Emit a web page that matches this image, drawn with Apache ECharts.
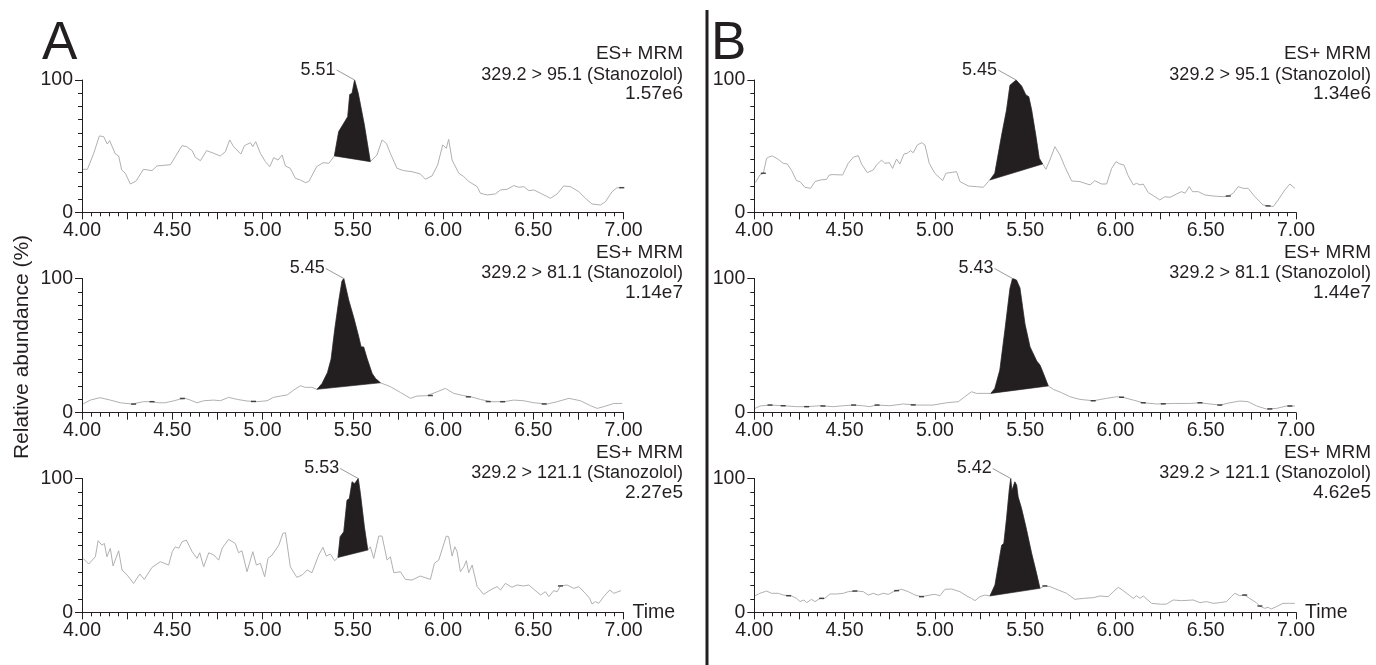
<!DOCTYPE html>
<html><head><meta charset="utf-8">
<script src="https://cdn.jsdelivr.net/npm/echarts@6/dist/echarts.min.js"></script>
<style>html,body{margin:0;padding:0;background:#fff}#c{width:1376px;height:665px}</style>
</head><body><div id="c"></div>
<script>
// ---------------- data ----------------
const panelLetters = ['A', 'B'];
const yAxisTitle = 'Relative abundance (%)';
const xAxisTitle = 'Time';
const modeLabel = 'ES+ MRM';
const transitions = ['329.2 > 95.1 (Stanozolol)', '329.2 > 81.1 (Stanozolol)', '329.2 > 121.1 (Stanozolol)'];
const intensities = ['1.57e6', '1.14e7', '2.27e5', '1.34e6', '1.44e7', '4.62e5'];
const retentionTimes = [5.51, 5.45, 5.53, 5.45, 5.43, 5.42];
const peakStart = [5.398, 5.302, 5.418, 5.305, 5.31, 5.305];
const peakEnd = [5.597, 5.653, 5.583, 5.597, 5.628, 5.582];
const timeMin = 4, timeMax = 7;

const A1_trace = [[4.006,32.5],[4.03,32.5],[4.065,44.6],[4.096,57.7],[4.12,57.2],[4.14,51.6],[4.153,54.2],[4.185,44],[4.203,42.6],[4.22,32],[4.24,29.5],[4.268,21.4],[4.30,23.7],[4.34,32.5],[4.388,31.5],[4.415,35],[4.49,36],[4.517,42],[4.554,50.4],[4.58,49.6],[4.61,46.6],[4.628,41.6],[4.656,39],[4.69,46.6],[4.73,44.6],[4.766,42.6],[4.794,45.8],[4.818,54.7],[4.84,49.6],[4.88,44],[4.90,50.4],[4.933,52.6],[4.946,49.6],[4.962,53.4],[4.988,44.6],[5.016,38.3],[5.04,34.5],[5.062,41.3],[5.086,39.5],[5.108,43.3],[5.127,35],[5.154,33.2],[5.182,25.7],[5.21,24.4],[5.237,22.4],[5.256,23.2],[5.30,34.5],[5.335,37.5],[5.367,37],[5.398,42.6],[5.422,61],[5.45,67.3],[5.472,72.3],[5.483,89],[5.496,90],[5.51,100],[5.53,90],[5.564,66],[5.597,38.3],[5.634,43.3],[5.662,54.7],[5.686,52.1],[5.708,44.6],[5.745,33.2],[5.782,31.5],[5.828,30.7],[5.874,29],[5.902,25],[5.939,27.5],[5.97,35.8],[5.998,50.9],[6.018,48.4],[6.031,55.2],[6.05,39.5],[6.087,29.5],[6.115,27],[6.143,23.2],[6.189,19.4],[6.207,14.4],[6.244,13.1],[6.29,13.9],[6.318,16.9],[6.355,17.4],[6.392,20.2],[6.42,18.9],[6.447,19.4],[6.475,16.4],[6.503,16.9],[6.54,14.4],[6.595,10.6],[6.632,13.9],[6.668,19.9],[6.705,19.4],[6.752,15.6],[6.788,10.6],[6.825,6.3],[6.872,5.5],[6.9,8],[6.936,15.6],[6.964,18.6],[6.986,18.6]];

const A2_trace = [[4.006,6.5],[4.046,9.4],[4.10,11.2],[4.157,9.4],[4.212,7.4],[4.277,6.5],[4.34,8.2],[4.388,8.2],[4.425,7.4],[4.46,7.4],[4.51,8.9],[4.545,10.2],[4.572,10.7],[4.6,9.4],[4.637,7.4],[4.674,8.9],[4.73,9.4],[4.766,8.9],[4.812,11.4],[4.86,9.9],[4.914,8.7],[4.97,8.2],[5.025,8.9],[5.06,11.4],[5.1,12.4],[5.136,13.2],[5.173,16.9],[5.21,20.1],[5.237,18.9],[5.274,18.9],[5.302,17.4],[5.33,21.8],[5.36,30],[5.38,40],[5.40,62],[5.422,83],[5.44,98],[5.45,100],[5.477,84],[5.505,71],[5.532,57],[5.546,49],[5.56,49],[5.58,40],[5.607,29.3],[5.625,25.6],[5.653,22.3],[5.708,19.4],[5.764,15.1],[5.819,10.7],[5.856,12.4],[5.911,12.7],[5.967,15.6],[6.013,18.1],[6.059,14.4],[6.115,12.7],[6.152,11.9],[6.207,9.9],[6.262,8.2],[6.336,8.2],[6.392,9.4],[6.447,8.9],[6.503,7.4],[6.577,6.5],[6.632,8.2],[6.697,10.7],[6.761,8.9],[6.817,5.2],[6.854,3.2],[6.89,4.5],[6.946,6.9],[6.992,6.9]];

const A3_trace = [[4.006,40.3],[4.037,36.1],[4.074,41.5],[4.089,53.5],[4.11,50.2],[4.124,51.5],[4.138,41.5],[4.157,47.8],[4.172,34.6],[4.203,46],[4.222,31.6],[4.25,27.9],[4.286,21.6],[4.32,28.6],[4.345,24.6],[4.388,33.6],[4.434,37.8],[4.48,35.3],[4.5,45.3],[4.517,49],[4.536,47.8],[4.554,52.7],[4.578,54],[4.61,45.3],[4.637,40.3],[4.652,44.5],[4.674,34],[4.702,44.5],[4.73,42.8],[4.757,39],[4.776,47.8],[4.812,54.5],[4.849,51.5],[4.867,44.5],[4.886,46],[4.914,30.3],[4.946,45.3],[4.966,35.3],[4.988,36.6],[5.012,26.6],[5.03,40.3],[5.053,42.8],[5.09,50.2],[5.113,59],[5.127,59.5],[5.154,34],[5.19,26.1],[5.22,27.9],[5.247,31.6],[5.274,29.6],[5.311,42.8],[5.335,48.5],[5.353,42],[5.376,43.5],[5.40,38.5],[5.418,41],[5.43,56.5],[5.45,60.2],[5.468,83.8],[5.481,85],[5.496,97.5],[5.509,96.1],[5.52,98],[5.53,100],[5.542,88.8],[5.564,63.9],[5.583,46.5],[5.597,49],[5.616,40.3],[5.644,57],[5.662,57],[5.69,39],[5.708,41.5],[5.727,29.6],[5.764,30.3],[5.791,24.6],[5.828,24.1],[5.874,27.1],[5.93,24.6],[5.952,36.6],[5.976,39],[6.018,57],[6.031,56.5],[6.05,42],[6.065,49],[6.078,45.3],[6.096,30.3],[6.115,34],[6.129,38.6],[6.142,29.6],[6.161,35.3],[6.189,19.2],[6.225,13.4],[6.262,16.7],[6.299,19.2],[6.318,16.7],[6.345,21.6],[6.382,18.7],[6.41,20.4],[6.447,19.7],[6.475,20.4],[6.503,17.2],[6.54,12.9],[6.567,15.4],[6.586,11.7],[6.613,16.2],[6.632,15.4],[6.65,19.7],[6.687,20.4],[6.724,17.9],[6.752,19.2],[6.788,14.2],[6.812,10.4],[6.825,6.2],[6.844,8],[6.862,6.7],[6.89,11.7],[6.923,16.7],[6.946,14.2],[6.986,16.2]];

const B1_trace = [[4.006,22.4],[4.031,28.2],[4.05,29.5],[4.068,40.8],[4.083,42],[4.10,42.6],[4.133,40],[4.16,37],[4.183,36.5],[4.207,31.5],[4.234,23.9],[4.253,23.2],[4.28,18.9],[4.312,18.1],[4.336,23.2],[4.364,24.4],[4.4,24.9],[4.415,28.2],[4.437,28.5],[4.489,28.2],[4.52,37],[4.548,41.6],[4.576,42.8],[4.594,36.5],[4.626,30],[4.659,32],[4.677,35.8],[4.705,39.5],[4.723,37],[4.748,37.5],[4.766,33.2],[4.788,40.3],[4.806,36.5],[4.829,44.1],[4.847,44.6],[4.866,46.6],[4.88,45],[4.903,50.9],[4.927,52.6],[4.945,50.9],[4.969,37],[5.0,29.5],[5.043,23.9],[5.061,29.5],[5.12,30.7],[5.139,23.2],[5.185,19.9],[5.231,19.4],[5.268,18.9],[5.296,23.2],[5.305,24.4],[5.332,29.5],[5.37,58.4],[5.397,77.3],[5.416,96],[5.45,100],[5.48,95.5],[5.504,88.7],[5.52,87.4],[5.536,77.3],[5.56,57.2],[5.578,40.8],[5.597,36.5],[5.615,32.5],[5.637,39.5],[5.665,49.6],[5.693,43.3],[5.72,34.5],[5.757,23.7],[5.803,23.2],[5.859,20.7],[5.886,23.9],[5.923,21.4],[5.951,21.4],[5.979,33.2],[6.003,38.3],[6.025,36.5],[6.047,35.8],[6.071,27.5],[6.099,20.7],[6.117,21.9],[6.136,20.7],[6.154,21.4],[6.182,14.9],[6.219,11.8],[6.246,9.3],[6.274,11.8],[6.302,11.3],[6.339,13.9],[6.366,15.6],[6.385,14.4],[6.409,19.4],[6.427,15.6],[6.459,15.6],[6.495,13.1],[6.541,12.3],[6.597,11.8],[6.625,12.3],[6.652,14.4],[6.68,19.4],[6.708,18.1],[6.735,18.1],[6.772,11.8],[6.818,5.5],[6.852,4.8],[6.874,4.3],[6.901,9.3],[6.938,16.9],[6.966,21.4],[6.994,18.1]];

const B2_trace = [[4.004,3.2],[4.031,5],[4.087,5.7],[4.16,5.2],[4.234,4.5],[4.29,4.5],[4.364,5.2],[4.437,4.5],[4.493,5.2],[4.548,5.7],[4.6,5.2],[4.64,4.5],[4.677,5.7],[4.751,5.2],[4.825,6.5],[4.9,5.7],[4.99,5.7],[5.065,7.4],[5.13,8.2],[5.166,11.9],[5.203,15.6],[5.231,14.4],[5.286,14.4],[5.31,14.4],[5.332,18.1],[5.36,31.8],[5.388,61.5],[5.416,92.6],[5.43,100],[5.452,98.8],[5.471,93],[5.499,66],[5.527,49],[5.564,38.5],[5.582,35.5],[5.601,29.3],[5.628,19.9],[5.656,17.4],[5.702,14.9],[5.748,11.9],[5.803,9.9],[5.877,8.9],[5.951,10.7],[6.006,11.9],[6.043,11.4],[6.099,9.4],[6.154,7.4],[6.228,6.5],[6.32,6.9],[6.412,6.9],[6.468,7.4],[6.523,6.5],[6.578,5.7],[6.634,7.4],[6.689,8.7],[6.735,8.2],[6.782,5],[6.837,2.7],[6.892,3.2],[6.948,5],[6.994,5]];

const B3_trace = [[4.004,12.4],[4.031,14.2],[4.068,15.9],[4.096,14.2],[4.133,14.2],[4.16,12.9],[4.207,12.2],[4.234,10.4],[4.253,8],[4.275,9.2],[4.29,7.2],[4.317,9.7],[4.336,8],[4.364,10.4],[4.39,10.4],[4.419,13.7],[4.456,13.7],[4.493,14.2],[4.52,15.4],[4.567,15.9],[4.604,15.4],[4.631,12.9],[4.659,14.2],[4.686,12.9],[4.714,14.2],[4.742,13.4],[4.77,15.4],[4.816,17.2],[4.853,15.4],[4.89,12.9],[4.926,11.7],[4.973,12.9],[5.0,13.4],[5.028,12.4],[5.056,17.2],[5.093,17.4],[5.139,15.4],[5.176,12.2],[5.203,10.4],[5.222,8.7],[5.25,11.7],[5.277,12.9],[5.305,12.2],[5.333,20.4],[5.37,50.2],[5.382,51.5],[5.397,70.1],[5.412,91.3],[5.42,100],[5.427,91],[5.443,97.5],[5.453,95],[5.461,86.3],[5.48,77.6],[5.504,63.9],[5.536,44],[5.563,29.1],[5.582,17.9],[5.609,19.7],[5.637,19.2],[5.683,16.7],[5.729,14.2],[5.775,9.7],[5.822,10.4],[5.877,10.9],[5.914,12.2],[5.96,11.7],[5.988,15.4],[6.016,18.7],[6.043,16.2],[6.08,12.4],[6.099,10.4],[6.117,12.4],[6.136,10.4],[6.154,12.2],[6.2,6.7],[6.255,6],[6.283,6.2],[6.32,9.2],[6.366,8.7],[6.431,9.2],[6.468,7.2],[6.504,8],[6.541,6.7],[6.578,7.2],[6.615,8],[6.642,11.7],[6.661,14.2],[6.688,12.4],[6.716,12.9],[6.743,10.4],[6.78,7.2],[6.799,4.7],[6.826,3],[6.845,3.7],[6.863,2.5],[6.891,4.2],[6.928,6.7],[6.965,6.7],[6.993,6.7]];

// small black integration marks on the traces
const A1_marks = [[6.99,18.6]];
const A2_marks = [[4.286,6.4],[4.388,8.2],[4.556,10.6],[4.95,8.4],[5.93,12.8],[6.14,11.8],[6.25,8.3],[6.33,8.2],[6.56,6.5]];
const A3_marks = [[6.65,19.7]];
const B1_marks = [[4.05,29.5],[6.625,12.3],[6.845,4.8]];
const B2_marks = [[4.087,5.7],[4.16,5.2],[4.29,4.5],[4.38,5.0],[4.55,5.7],[4.68,5.7],[4.88,5.8],[5.877,8.9],[6.034,11.5],[6.154,7.4],[6.265,6.6],[6.468,7.4],[6.578,5.7],[6.855,2.8],[6.966,5]];
const B3_marks = [[4.19,12.4],[4.373,10.4],[4.557,15.9],[4.788,16.2],[4.926,11.7],[5.609,19.7],[6.716,12.9],[6.80,4.7]];

const traces = [A1_trace, A2_trace, A3_trace, B1_trace, B2_trace, B3_trace];
const marks = [A1_marks, A2_marks, A3_marks, B1_marks, B2_marks, B3_marks];

// ---------------- layout / style ----------------
const INK = '#231f20';
const TRACE = '#b0b0b0';
const FONT = '"Liberation Sans", Arial, Helvetica, sans-serif';
const colLeft = [82, 754.3];
const colWidth = [541.6, 541.7];
const rowTop = [80, 278.5, 478.5];
const rowHeight = [132.3, 134.2, 133.8];
const annotRight = [683, 1371];

const grids = [], xAxes = [], yAxes = [], series = [], graphics = [];

function isHalf(v) { return Math.abs(v * 2 - Math.round(v * 2)) < 1e-6; }

traces.forEach(function (trace, i) {
  const col = Math.floor(i / 3), row = i % 3;
  grids.push({ left: colLeft[col], top: rowTop[row], width: colWidth[col], height: rowHeight[row], containLabel: false });
  xAxes.push({
    gridIndex: i, type: 'value', min: timeMin, max: timeMax, interval: 0.25,
    axisLine: { show: true, onZero: false, lineStyle: { color: INK, width: 1 } },
    axisTick: { show: true, length: 7, lineStyle: { color: INK, width: 1 } },
    minorTick: { show: true, splitNumber: 5, length: 4, lineStyle: { color: INK, width: 1 } },
    splitLine: { show: false }, minorSplitLine: { show: false },
    axisLabel: { show: true, margin: 8, color: INK, fontSize: 19.5, fontFamily: FONT,
      formatter: function (v) { return isHalf(v) ? v.toFixed(2) : ''; } },
    name: row === 2 ? xAxisTitle : '', nameLocation: 'end', nameGap: 9, nameMoveOverlap: false,
    nameTextStyle: { color: INK, fontSize: 19.5, fontFamily: FONT, verticalAlign: 'middle', padding: [6, 0, 0, 0] }
  });
  yAxes.push({
    gridIndex: i, type: 'value', min: 0, max: 100, interval: 100,
    axisLine: { show: true, onZero: false, lineStyle: { color: INK, width: 1 } },
    axisTick: { show: true, length: 7, lineStyle: { color: INK, width: 1 } },
    minorTick: { show: true, splitNumber: 10, length: 4, lineStyle: { color: INK, width: 1 } },
    splitLine: { show: false }, minorSplitLine: { show: false },
    axisLabel: { show: true, margin: 9, color: INK, fontSize: 19.5, fontFamily: FONT }
  });

  series.push({
    type: 'line', xAxisIndex: i, yAxisIndex: i, data: trace, showSymbol: false, symbol: 'none',
    lineStyle: { color: TRACE, width: 1 }, silent: true, animation: false, z: 2
  });

  const peakPts = trace.filter(function (p) { return p[0] >= peakStart[i] - 1e-9 && p[0] <= peakEnd[i] + 1e-9; });
  let apexIdx = 0;
  peakPts.forEach(function (p, k) { if (p[1] > peakPts[apexIdx][1]) apexIdx = k; });
  const label = retentionTimes[i].toFixed(2);

  series.push({
    type: 'custom', xAxisIndex: i, yAxisIndex: i, data: peakPts, silent: true, animation: false, z: 3,
    encode: { x: 0, y: 1 },
    renderItem: function (params, api) {
      if (params.dataIndex !== 0) return null;
      const pts = peakPts.map(function (p) { return api.coord(p); });
      const apex = pts[apexIdx];
      return {
        type: 'group',
        children: [
          { type: 'polygon', shape: { points: pts }, style: { fill: INK, stroke: INK, lineWidth: 0.6 } },
          { type: 'line', shape: { x1: apex[0] - 18, y1: apex[1] - 10, x2: apex[0], y2: apex[1] },
            style: { stroke: '#9a9a9a', lineWidth: 1 } },
          { type: 'text', x: apex[0] - 19, y: apex[1] - 10,
            style: { text: label, fill: INK, font: '18px ' + FONT, align: 'right', verticalAlign: 'middle' } }
        ]
      };
    }
  });

  series.push({
    type: 'scatter', xAxisIndex: i, yAxisIndex: i, data: marks[i], symbol: 'rect', symbolSize: [5, 1.5],
    itemStyle: { color: INK }, silent: true, animation: false, z: 4
  });

  // annotation block
  const rx = annotRight[col], ty = rowTop[row];
  graphics.push({ type: 'text', x: rx, y: ty - 26, style: { text: modeLabel, fill: INK, font: '19px ' + FONT, align: 'right', verticalAlign: 'middle' } });
  graphics.push({ type: 'text', x: rx, y: ty - 5, style: { text: transitions[row], fill: INK, font: '18px ' + FONT, align: 'right', verticalAlign: 'middle' } });
  graphics.push({ type: 'text', x: rx, y: ty + 14, style: { text: intensities[i], fill: INK, font: '19px ' + FONT, align: 'right', verticalAlign: 'middle' } });
});

// panel letters, divider, y title
graphics.push({ type: 'text', x: 42, y: 44, style: { text: panelLetters[0], fill: INK, font: '53px ' + FONT, align: 'left', verticalAlign: 'middle' } });
graphics.push({ type: 'text', x: 711, y: 44, style: { text: panelLetters[1], fill: INK, font: '53px ' + FONT, align: 'left', verticalAlign: 'middle' } });
graphics.push({ type: 'line', shape: { x1: 707, y1: 10, x2: 707, y2: 665 }, style: { stroke: INK, lineWidth: 3 } });
graphics.push({ type: 'text', x: 22, y: 347, rotation: Math.PI / 2,
  style: { text: yAxisTitle, fill: INK, font: '21px ' + FONT, align: 'center', verticalAlign: 'middle' } });

const chart = echarts.init(document.getElementById('c'), null, { renderer: 'canvas' });
chart.setOption({
  animation: false,
  backgroundColor: '#ffffff',
  grid: grids, xAxis: xAxes, yAxis: yAxes, series: series,
  graphic: { elements: graphics }
});
</script></body></html>
